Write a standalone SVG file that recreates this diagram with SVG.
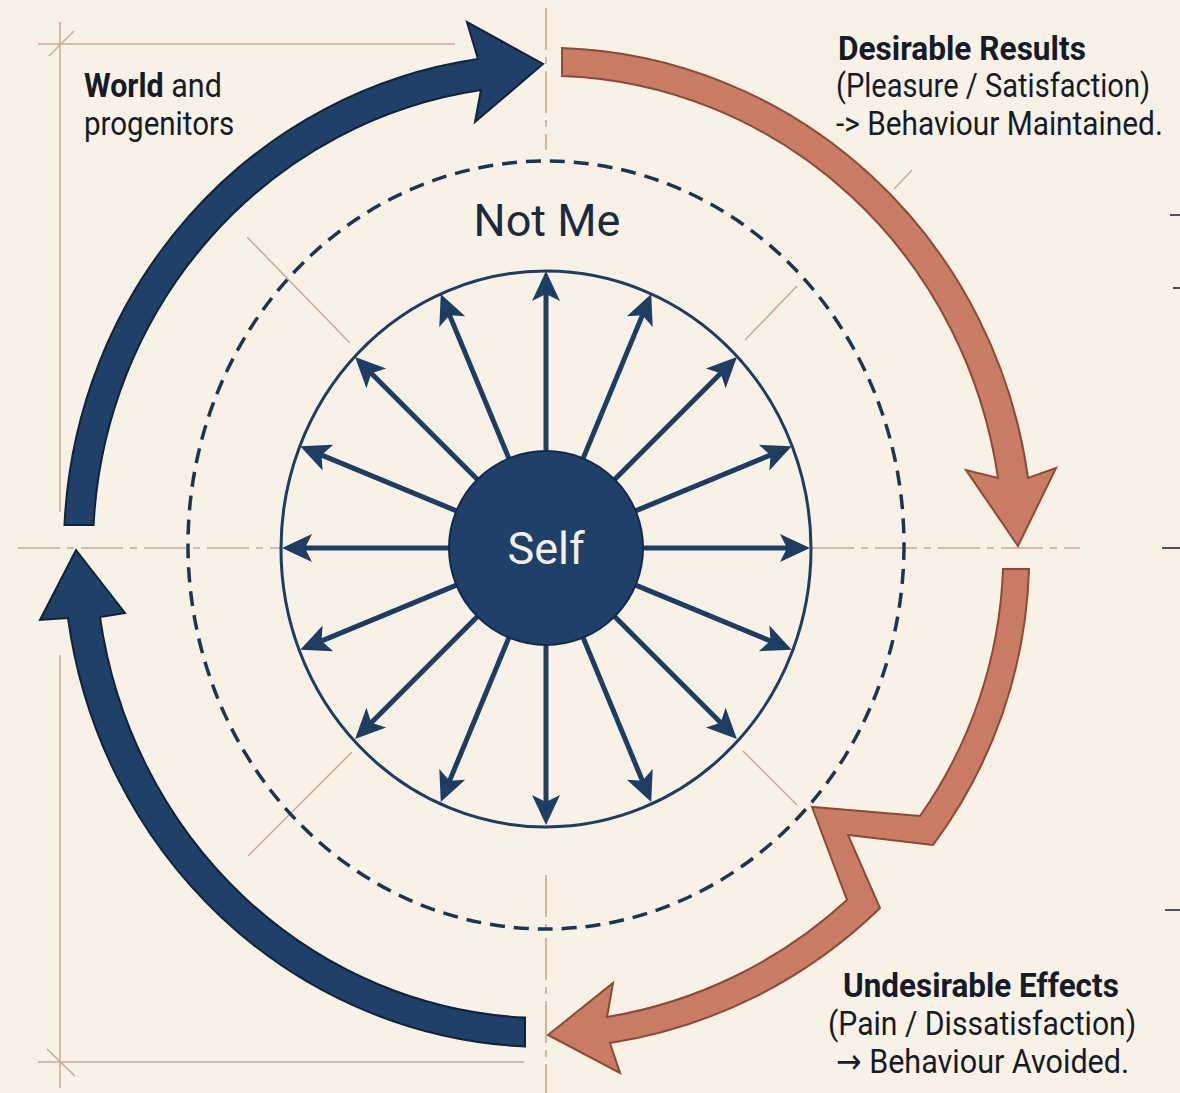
<svg xmlns="http://www.w3.org/2000/svg" width="1180" height="1093" viewBox="0 0 1180 1093">
<defs>
<style>
.bg{fill:#f7f1e6}
.cons{stroke:#c9aa93;stroke-width:1.5;fill:none}
.dd{stroke:#c9aa93;stroke-width:1.6;fill:none;stroke-dasharray:42 7 7 7}
.tick{stroke:#4d5563;stroke-width:2}
.blue{fill:#1f4169;stroke:#0f2339;stroke-width:2;stroke-linejoin:miter}
.red{fill:#c97c63;stroke:#8e4935;stroke-width:2;stroke-linejoin:miter}
.ray{stroke:#1e3d62;stroke-width:5;marker-end:url(#ah)}
.lbl{font-family:Roboto,"Liberation Sans",sans-serif;font-size:34px;fill:#151b27}
.b{font-weight:700}
.arr{font-family:"DejaVu Sans","Liberation Sans",sans-serif}
</style>
<marker id="ah" viewBox="0 0 30 30" refX="10" refY="15" markerWidth="30" markerHeight="30" markerUnits="userSpaceOnUse" orient="auto">
<path d="M0,1 L30,15 L0,29 L7,15 Z" fill="#1e3d62"/>
</marker>
</defs>
<rect class="bg" x="0" y="0" width="1180" height="1093"/>

<g id="construction">
<line class="cons" x1="38" y1="44" x2="455" y2="44"/>
<line class="cons" x1="49" y1="56" x2="74" y2="31"/>
<line class="cons" x1="60" y1="22" x2="60" y2="512"/>
<line class="cons" x1="60" y1="655" x2="60" y2="1088"/>
<line class="cons" x1="38" y1="1062" x2="524" y2="1062"/>
<line class="cons" x1="47" y1="1049" x2="75" y2="1076"/>
<line class="dd" x1="18" y1="548" x2="280" y2="548"/>
<line class="dd" x1="812" y1="548" x2="1080" y2="548"/>
<line class="dd" x1="546" y1="8" x2="546" y2="150"/>
<line class="dd" x1="546" y1="875" x2="546" y2="1093"/>
<line class="cons" x1="247" y1="237" x2="350" y2="343"/>
<line class="cons" x1="912" y1="170" x2="894" y2="189"/>
<line class="cons" x1="797" y1="286" x2="745" y2="340"/>
<line class="cons" x1="248" y1="856" x2="352" y2="752"/>
<line class="cons" x1="743" y1="751" x2="797" y2="805"/>
<line class="tick" x1="1170" y1="215" x2="1180" y2="215"/>
<line class="tick" x1="1173" y1="288" x2="1180" y2="288"/>
<line class="tick" x1="1162" y1="548" x2="1180" y2="548"/>
<line class="tick" x1="1165" y1="910" x2="1180" y2="910"/>
</g>

<g id="not-me">
<ellipse cx="546" cy="545" rx="358" ry="384" fill="none" stroke="#1c3552" stroke-width="3.5" stroke-dasharray="15 9"/>
<text x="547" y="236" text-anchor="middle" font-family="Roboto,'Liberation Sans',sans-serif" font-size="45" fill="#1b2a3e">Not Me</text>
</g>

<g id="ring">
<ellipse cx="546" cy="549" rx="265" ry="278" fill="none" stroke="#1e3d62" stroke-width="3"/>
</g>

<g id="connectors">
<line class="ray" x1="643" y1="548" x2="790" y2="548"/>
<line class="ray" x1="643" y1="548" x2="792" y2="548" transform="rotate(22.5 546 548)"/>
<line class="ray" x1="643" y1="548" x2="796" y2="548" transform="rotate(45 546 548)"/>
<line class="ray" x1="643" y1="548" x2="801" y2="548" transform="rotate(67.5 546 548)"/>
<line class="ray" x1="643" y1="548" x2="803" y2="548" transform="rotate(90 546 548)"/>
<line class="ray" x1="643" y1="548" x2="801" y2="548" transform="rotate(112.5 546 548)"/>
<line class="ray" x1="643" y1="548" x2="796" y2="548" transform="rotate(135 546 548)"/>
<line class="ray" x1="643" y1="548" x2="792" y2="548" transform="rotate(157.5 546 548)"/>
<line class="ray" x1="643" y1="548" x2="790" y2="548" transform="rotate(180 546 548)"/>
<line class="ray" x1="643" y1="548" x2="792" y2="548" transform="rotate(202.5 546 548)"/>
<line class="ray" x1="643" y1="548" x2="796" y2="548" transform="rotate(225 546 548)"/>
<line class="ray" x1="643" y1="548" x2="801" y2="548" transform="rotate(247.5 546 548)"/>
<line class="ray" x1="643" y1="548" x2="803" y2="548" transform="rotate(270 546 548)"/>
<line class="ray" x1="643" y1="548" x2="801" y2="548" transform="rotate(292.5 546 548)"/>
<line class="ray" x1="643" y1="548" x2="796" y2="548" transform="rotate(315 546 548)"/>
<line class="ray" x1="643" y1="548" x2="792" y2="548" transform="rotate(337.5 546 548)"/>

<path id="world-arrow" class="blue" d="M64.5,525 A482 494 0 0 1 478,59 L467,22 L543,64 L475,122 L481,90 A453 464 0 0 0 93.6,525 Z"/>
<path id="return-arrow" class="blue" d="M525,1046.5 A483 499 0 0 1 68,618 L40,620 L76,550 L125,613 L100,617 A451 470 0 0 0 525,1017.6 Z"/>
<path id="desirable-arrow" class="red" d="M562,48 A487 500 0 0 1 1028,478 L1056,468 L1018,546 L966,470 L998,478 A457 472 0 0 0 562,76 Z"/>
<path id="undesirable-arrow" class="red" d="M1003,569 L1029,569 A486 486 0 0 1 933,845 L848,835 L880,908 A495 495 0 0 1 610,1043 L620,1073 L548,1035 L613,983 L607,1017 A468 468 0 0 0 847,900 L812,807 L920,816 A458 458 0 0 0 1003,569 Z"/>
</g>

<g id="self">
<circle cx="546" cy="548" r="97" fill="#1f4169" stroke="#13294a" stroke-width="2"/>
<text x="546" y="564" text-anchor="middle" font-family="Roboto,'Liberation Sans',sans-serif" font-size="45" fill="#f3efe6">Self</text>
</g>

<g id="world-label">
<text class="lbl" transform="translate(84 97) scale(0.896 1)"><tspan class="b">World</tspan> and</text>
<text class="lbl" transform="translate(84 135) scale(0.868 1)">progenitors</text>
</g>

<g id="desirable-label">
<text class="lbl b" transform="translate(838 60) scale(0.93 1)">Desirable Results</text>
<text class="lbl" transform="translate(836 97) scale(0.855 1)">(Pleasure / Satisfaction)</text>
<text class="lbl" transform="translate(836 135) scale(0.877 1)">-&gt; Behaviour Maintained.</text>
</g>

<g id="undesirable-label">
<text class="lbl b" transform="translate(843 997) scale(0.925 1)">Undesirable Effects</text>
<text class="lbl" transform="translate(828 1035) scale(0.886 1)">(Pain / Dissatisfaction)</text>
<text class="lbl" transform="translate(836 1073) scale(0.898 1)"><tspan class="arr">→</tspan> Behaviour Avoided.</text>
</g>
</svg>
